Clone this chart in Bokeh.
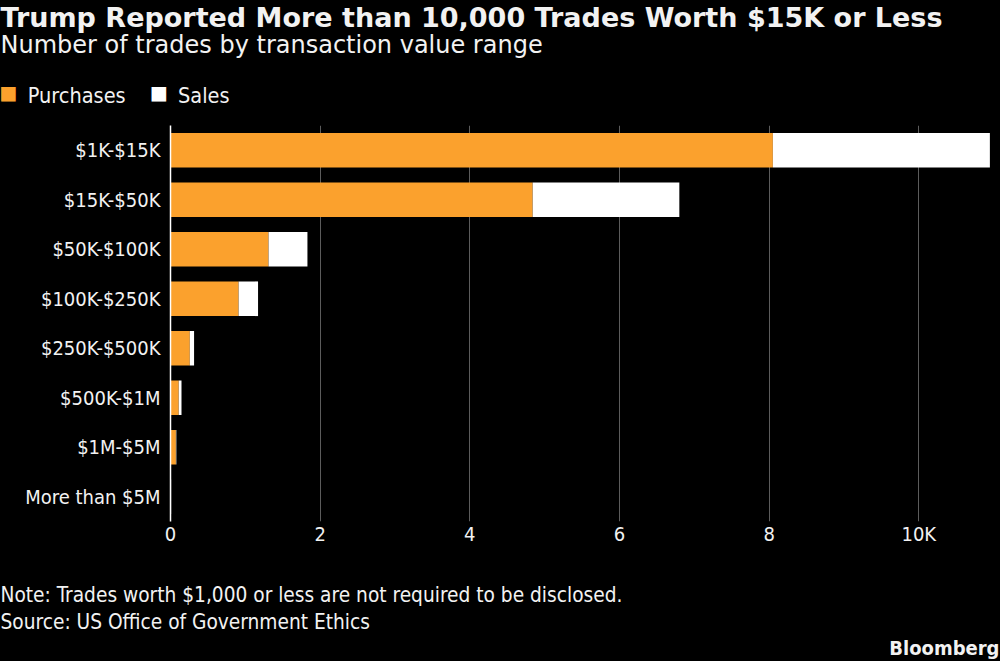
from bokeh.plotting import figure
from bokeh.models import FactorRange, Range1d, ColumnDataSource, FixedTicker, Title
from bokeh.embed import file_html
from bokeh.resources import INLINE

# Trade counts by transaction value range
categories = ["$1K-$15K", "$15K-$50K", "$50K-$100K", "$100K-$250K",
              "$250K-$500K", "$500K-$1M", "$1M-$5M", "More than $5M"]
purchases = [8050, 4840, 1310, 910, 258, 110, 72, 6]
sales = [2900, 1960, 520, 260, 57, 37, 6, 2]
tick_values = [0, 2000, 4000, 6000, 8000, 10000]
tick_labels = ["0", "2", "4", "6", "8", "10K"]
series_names = ["Purchases", "Sales"]

title_text = "Trump Reported More than 10,000 Trades Worth $15K or Less"
subtitle_text = "Number of trades by transaction value range"
note_text = "Note: Trades worth $1,000 or less are not required to be disclosed."
source_text = "Source: US Office of Government Ethics"
brand_text = "Bloomberg"

WIDE = "DejaVu Sans"
NARROW = "DejaVu Sans Condensed"
ORANGE = "#fba12d"
WHITE = "#ffffff"
TEXT = "#f2f2f2"
GRID = "#5c5c5c"
BG = "#000000"
LEFT, RIGHT = 170, 8
EM_BOX = 1.164          # ascent + descent of the DejaVu faces, in em

totals = [a + b for a, b in zip(purchases, sales)]
src = ColumnDataSource(dict(cat=categories, purch=purchases, tot=totals,
                            zero=[0] * len(categories)))

p = figure(width=1000, height=661, output_backend="svg", toolbar_location=None,
           title_location=None,
           y_range=FactorRange(factors=categories[::-1], range_padding=0),
           x_range=Range1d(0, 10985),
           min_border_left=LEFT, min_border_right=RIGHT,
           min_border_top=0, min_border_bottom=0,
           background_fill_color=BG, border_fill_color=BG,
           outline_line_color=None)
p.styles = {"background-color": BG}

p.hbar(y="cat", left="zero", right="purch", height=0.7, source=src,
       fill_color=ORANGE, line_color=None)
p.hbar(y="cat", left="purch", right="tot", height=0.7, source=src,
       fill_color=WHITE, line_color=None)

# value axis, in thousands of trades
xa = p.xaxis[0]
xa.ticker = FixedTicker(ticks=tick_values)
xa.major_label_overrides = {v: l for v, l in zip(tick_values, tick_labels)}
xa.axis_line_color = None
xa.major_tick_line_color = None
xa.major_tick_out = 0
xa.major_tick_in = 0
xa.minor_tick_line_color = None
xa.major_label_text_color = TEXT
xa.major_label_text_font = NARROW
xa.major_label_text_font_size = "20px"
xa.major_label_standoff = 0

# category axis
ya = p.yaxis[0]
ya.axis_line_color = WHITE
ya.axis_line_width = 1.5
ya.major_tick_line_color = None
ya.major_tick_out = 0
ya.major_tick_in = 0
ya.minor_tick_line_color = None
ya.major_label_text_color = TEXT
ya.major_label_text_font = NARROW
ya.major_label_text_font_size = "20px"
ya.major_label_standoff = 10

p.xgrid.grid_line_color = GRID
p.xgrid.grid_line_width = 1
p.ygrid.grid_line_color = None


def strip(text, size, band, font=NARROW, bold=False, color=TEXT,
          offset=-LEFT, align="left"):
    """A text line centred in a horizontal band `band` px tall."""
    standoff = band - 2 - EM_BOX * size
    return Title(text=text, align=align, offset=offset, standoff=standoff,
                 vertical_align="middle", text_font=font,
                 text_font_size=f"{size}px",
                 text_font_style="bold" if bold else "normal",
                 text_color=color)


# header, listed from the bars outward
above = [
    strip(" ", 20, 29.5),
    strip(series_names[1], 21.5, 0, offset=177.5 - LEFT),
    strip(series_names[0], 21.5, 0, offset=27.3 - LEFT),
    strip(" ", 20, 3),
    strip("\u25a0", 19, 0, font=WIDE, color=WHITE, offset=149.5 - LEFT),
    strip("\u25a0", 19, 0, font=WIDE, color=ORANGE, offset=-1 - LEFT),
    strip(" ", 20, 34),
    strip(subtitle_text, 24, 23, font=WIDE),
    strip(title_text, 27, 33, font=WIDE, bold=True),
]
for t in above:
    p.add_layout(t, "above")

# footer, listed from the tick labels downward
below = [
    strip(" ", 20, 30),
    strip(note_text, 20.7, 31),
    strip(source_text, 20.7, 23),
    strip(brand_text, 20, 27, bold=True, align="right", offset=-7),
]
for t in below:
    p.add_layout(t, "below")

open("out.html", "w").write(file_html(p, INLINE))
